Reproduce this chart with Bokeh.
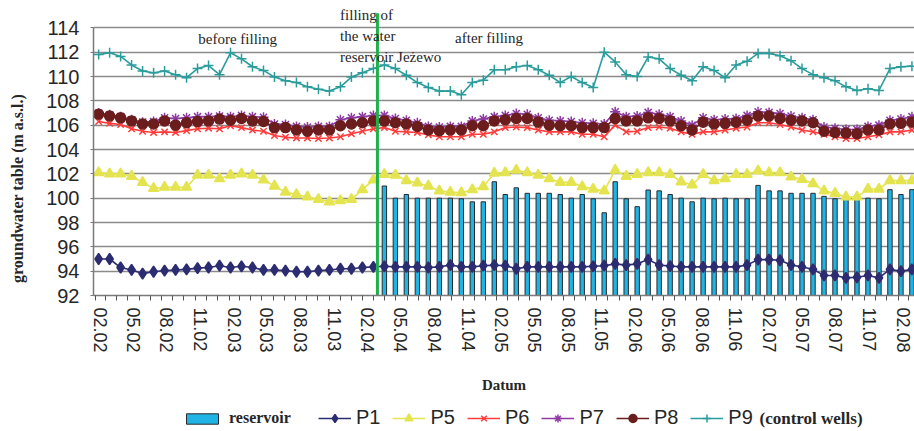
import math
import pandas as pd
from bokeh.plotting import figure
from bokeh.layouts import row, column
from bokeh.models import (ColumnDataSource, Range1d, FixedTicker, DatetimeTickFormatter,
                          Legend, LegendItem, Label)
from bokeh.embed import file_html
from bokeh.resources import INLINE

# ---------------- data ----------------
first_measurement = "2002-02-10"      # measurements roughly every 30 days
n_points = 75
filling_date = "2004-03-12"           # filling of the water reservoir Jeżewo
reservoir_start = 26                  # first measurement with reservoir level

tick_labels = ["02.02", "05.02", "08.02", "11.02", "02.03", "05.03", "08.03", "11.03",
               "02.04", "05.04", "08.04", "11.04", "02.05", "05.05", "08.05", "11.05",
               "02.06", "05.06", "08.06", "11.06", "02.07", "05.07", "08.07", "11.07", "02.08"]

P1 = [95.0, 95.0, 94.3, 94.1, 93.8, 93.95, 94.05, 94.1, 94.15, 94.25, 94.3, 94.45, 94.3,
      94.4, 94.3, 94.1, 94.1, 94.05, 93.95, 93.95, 94.05, 94.1, 94.2, 94.2, 94.3, 94.35,
      94.4, 94.35, 94.35, 94.35, 94.3, 94.35, 94.5, 94.35, 94.35, 94.45, 94.5, 94.45, 94.2,
      94.35, 94.35, 94.35, 94.35, 94.35, 94.35, 94.4, 94.45, 94.6,
      94.5, 94.6, 94.95, 94.5, 94.42, 94.35, 94.35, 94.35, 94.35, 94.35, 94.35, 94.5, 94.95,
      94.95, 94.9, 94.5, 94.35, 94.15, 93.65, 93.65, 93.45, 93.5, 93.65, 93.45, 94.15, 94.0, 94.15]

P5 = [102.1, 102.0, 102.0, 101.8, 101.3, 100.8, 100.9, 100.9, 100.9, 101.9, 101.9, 101.6, 101.9,
      102.0, 101.9, 101.5, 101.0, 100.5, 100.3, 100.1, 99.9, 99.7, 99.8, 99.9, 100.7,
      101.5, 101.95, 101.9, 101.45, 101.25, 101.0, 100.6, 100.5, 100.45, 100.7,
      100.95, 102.05, 102.1, 102.3, 102.1, 101.9, 101.6, 101.3, 101.3, 100.95,
      100.75, 100.6, 102.3, 101.8, 101.95, 102.1, 102.1, 101.95, 101.35, 101.1,
      101.95, 101.45, 101.6, 101.95, 101.95, 102.25, 102.1, 102.1, 101.75, 101.55,
      101.2, 100.6, 100.4, 100.1, 100.1, 100.75, 100.75, 101.45, 101.45, 101.45]

P6 = [106.3, 106.15, 106.05, 105.7, 105.5, 105.4, 105.45, 105.4, 105.55, 105.7,
      105.75, 105.7, 105.95, 105.8, 105.6, 105.5, 105.15, 105.0, 104.95, 104.95,
      104.9, 104.95, 105.05, 105.3, 105.5, 105.7, 105.8, 105.5, 105.45, 105.4,
      105.2, 105.05, 105.05,
      105.05, 105.25, 105.25, 105.45, 105.8, 105.85, 105.8, 105.6, 105.45, 105.45,
      105.45, 105.25, 105.25, 105.05, 106.0, 105.45, 105.5, 105.8, 105.85, 105.75,
      105.45, 105.25, 105.45, 105.45, 105.6, 105.75, 105.85, 106.2, 106.2, 106.05,
      105.85, 105.6, 105.45, 105.25, 105.05, 104.9, 104.9, 105.05, 105.2, 105.45,
      105.45, 105.6]

P7 = [107.0, 106.85, 106.7, 106.45, 106.25, 106.3,
      106.6, 106.55, 106.6, 106.7, 106.7, 106.75, 106.7, 106.8, 106.7, 106.65,
      106.1, 106.05, 105.9, 105.85, 105.9, 105.9,
      106.45, 106.6, 106.7, 106.8, 106.8, 106.55,
      106.4, 106.2, 105.9, 105.85, 105.9, 105.9,
      106.35, 106.5, 106.7, 106.8, 106.95, 106.9, 106.6, 106.4, 106.35, 106.3, 106.2, 106.15, 106.1,
      107.1, 106.7, 106.75, 107.05, 106.9, 106.7, 106.35, 106.0,
      106.6, 106.45, 106.5, 106.55, 106.8, 107.1, 107.05, 106.95, 106.75, 106.6, 106.45,
      105.85, 105.75, 105.65, 105.65, 105.9, 106.0, 106.4, 106.5, 106.7]

P8 = [106.9, 106.75, 106.6, 106.35, 106.1, 106.1, 106.35, 106.0, 106.2, 106.3,
      106.35, 106.5, 106.4, 106.55, 106.35, 106.3, 105.8, 105.8, 105.6, 105.5,
      105.6, 105.6, 105.95, 106.1, 106.2,
      106.35, 106.35, 106.2, 106.1, 105.9, 105.6, 105.55, 105.6, 105.6,
      105.95, 105.95, 106.35, 106.45, 106.55, 106.55, 106.25, 106.0, 105.95, 105.95,
      105.8, 105.8, 105.8,
      106.55, 106.35, 106.35, 106.6, 106.55, 106.35, 105.95, 105.6,
      106.25, 106.1, 106.15, 106.25, 106.4, 106.75, 106.75, 106.55, 106.4, 106.35, 106.2,
      105.5, 105.4, 105.35, 105.3, 105.6, 105.6, 106.1, 106.15, 106.25]

P9 = [111.8, 111.95, 111.65, 110.95, 110.45, 110.3, 110.45, 110.15, 109.9, 110.65,
      110.9, 110.15, 111.95, 111.45, 110.8, 110.5, 109.95, 109.65, 109.5, 109.15,
      108.95, 108.8, 109.15, 109.95, 110.3, 110.65, 110.95, 110.65, 110.1, 109.5,
      109.1, 108.8, 108.8, 108.5, 109.5, 109.7, 110.55, 110.55, 110.8, 110.9,
      110.55, 110.1, 109.5, 110.0, 109.5, 109.1, 112.0, 111.2, 110.15, 110.0,
      111.6, 111.45, 110.65, 110.1, 109.65, 110.8, 110.5, 109.9, 110.95, 111.25,
      111.9, 111.9, 111.7, 111.3, 110.65, 110.15, 109.9, 109.65, 109.15, 108.85,
      109.0, 108.85, 110.65, 110.8, 110.85]

reservoir = [101.0, 100.0, 100.3, 100.0, 100.0, 100.0, 100.0, 99.95, 99.7, 99.7,
             101.35, 100.3, 100.85, 100.4, 100.4, 100.4, 100.3, 100.0, 100.3, 99.95,
             98.8, 101.35, 99.95, 99.3, 100.67, 100.6, 100.3, 100.0, 99.7, 100.0,
             99.95, 100.0, 99.95, 99.95, 101.05, 100.6, 100.6, 100.4, 100.4, 100.4,
             100.15, 99.95, 99.9, 99.9, 100.0, 99.95, 100.7, 100.3, 100.7]

# ---------------- helpers ----------------
def ms(d):
    return pd.Timestamp(d).value / 1e6

DAY = 86400000.0
dates = pd.date_range(first_measurement, periods=n_points, freq="30D")
tick_pos = [ms(pd.Timestamp(year=2000 + int(t[3:]), month=int(t[:2]), day=15)) for t in tick_labels]
minor_pos = [ms(d) for d in pd.date_range("2002-02-01", "2008-04-01", freq="MS")]

src = ColumnDataSource(dict(date=dates, P1=P1, P5=P5, P6=P6, P7=P7, P8=P8, P9=P9))
bar_src = ColumnDataSource(dict(date=dates[reservoir_start:], level=reservoir))

SANS = "Liberation Sans"
SERIF = "Liberation Serif"
TXT = "#262626"
BAR_FILL = "#20b4e6"
BAR_LINE = "#2a2a2a"

series = [
    ("P1", "#2c2c72", "diamond", 11, True),
    ("P5", "#e4e450", "triangle", 10, True),
    ("P6", "#ff3c3c", "x", 9, False),
    ("P7", "#8e3aa0", "asterisk", 10, False),
    ("P8", "#6b1d1d", "circle", 10, True),
    ("P9", "#2b9c9c", "cross", 10, False),
]

# ---------------- main plot ----------------
p = figure(width=884, height=398, x_axis_type="datetime", output_backend="svg",
           toolbar_location=None,
           x_range=Range1d(ms("2002-01-27"), ms("2008-03-17")),
           y_range=Range1d(92, 116),
           min_border_left=63, min_border_right=0, min_border_top=3, min_border_bottom=103)
p.outline_line_color = None
p.background_fill_color = "white"
p.border_fill_color = "white"
p.xgrid.visible = False

yt = FixedTicker(ticks=list(range(92, 115, 2)))
p.yaxis.ticker = yt
p.ygrid.ticker = yt
p.ygrid.grid_line_color = "#8a8a8a"
p.ygrid.grid_line_width = 1.6
p.yaxis.bounds = (92, 114)
p.yaxis.axis_line_color = "#7a7a7a"
p.yaxis.axis_line_width = 1.5
p.yaxis.major_tick_line_color = "#7a7a7a"
p.yaxis.major_tick_out = 3
p.yaxis.major_tick_in = 0
p.yaxis.minor_tick_line_color = None
p.yaxis.major_label_standoff = 11
p.yaxis.major_label_text_font = SANS
p.yaxis.major_label_text_font_size = "20px"
p.yaxis.major_label_text_color = TXT

p.xaxis.ticker = FixedTicker(ticks=tick_pos, minor_ticks=minor_pos)
fmt = "%m.%y"
p.xaxis.formatter = DatetimeTickFormatter(microseconds=fmt, milliseconds=fmt, seconds=fmt,
                                          minsec=fmt, minutes=fmt, hourmin=fmt, hours=fmt,
                                          days=fmt, months=fmt, years=fmt)
p.xaxis.major_label_orientation = "vertical"
p.xaxis.major_tick_line_color = None
p.xaxis.major_tick_out = 0
p.xaxis.major_tick_in = 0
p.xaxis.minor_tick_line_color = "#555555"
p.xaxis.minor_tick_line_width = 1
p.xaxis.minor_tick_out = 5
p.xaxis.minor_tick_in = 0
p.xaxis.axis_line_color = "#7a7a7a"
p.xaxis.axis_line_width = 1.5
p.xaxis.major_label_standoff = 7
p.xaxis.major_label_text_font = SANS
p.xaxis.major_label_text_font_size = "18px"
p.xaxis.major_label_text_color = TXT
p.xaxis.axis_label = "Datum"
p.xaxis.axis_label_standoff = 21
p.xaxis.axis_label_text_font = SERIF
p.xaxis.axis_label_text_font_style = "bold"
p.xaxis.axis_label_text_font_size = "15px"
p.xaxis.axis_label_text_color = TXT

p.vbar(x="date", top="level", bottom=92, width=12 * DAY, source=bar_src,
       fill_color=BAR_FILL, line_color=BAR_LINE, line_width=1)

for name, col, mk, sz, filled in series:
    p.line("date", name, source=src, line_color=col, line_width=1.6)
    p.scatter("date", name, source=src, marker=mk, size=sz, line_color=col,
              fill_color=col if filled else None, line_width=1.5)

# filling of the reservoir: vertical green line
fill_src = ColumnDataSource(dict(x=[ms(filling_date)], y0=[92], y1=[115.2]))
p.segment(x0="x", y0="y0", x1="x", y1="y1", source=fill_src,
          line_color="#1fb04a", line_width=3)

def lab(fig, x, y, text, size="15px", bold=False, angle=0.0, align="left", font=SERIF):
    fig.add_layout(Label(x=x, y=y, text=text, angle=angle, text_align=align,
                         text_baseline="middle", text_font=font,
                         text_font_style="bold" if bold else "normal",
                         text_font_size=size, text_color=TXT))

lab(p, ms("2002-11-09"), 113.07, "before filling")
lab(p, ms("2003-12-01"), 115.04, "filling of")
lab(p, ms("2003-12-01"), 113.3, "the water")
lab(p, ms("2003-12-01"), 111.6, "reservoir Jeżewo")
lab(p, ms("2004-10-10"), 113.15, "after filling")

# ---------------- left strip: y axis title (shares the y range) ----------------
fl = figure(width=30, height=398, output_backend="svg", toolbar_location=None,
            x_range=Range1d(0, 30), y_range=p.y_range,
            x_axis_location=None, y_axis_location=None,
            min_border=0, min_border_left=0, min_border_right=0,
            min_border_top=3, min_border_bottom=103)
fl.outline_line_color = None
fl.grid.visible = False
lab(fl, 17, 100.8, "groundwater table (m a.s.l.)", size="16px", bold=True,
    angle=math.pi / 2, align="center")

# ---------------- bottom strip: legend ----------------
fb = figure(width=914, height=33, output_backend="svg", toolbar_location=None,
            x_range=Range1d(0, 914), y_range=Range1d(0, 33),
            x_axis_location=None, y_axis_location=None,
            min_border=0, min_border_left=0, min_border_right=0,
            min_border_top=0, min_border_bottom=0)
fb.outline_line_color = None
fb.grid.visible = False

# legend swatch renderers (their single point lies outside the visible strip)
rb = fb.vbar(x=[-100], top=[-10], bottom=-20, width=1, fill_color=BAR_FILL,
             line_color=BAR_LINE, line_width=1)
items = []
for name, col, mk, sz, filled in series:
    ln = fb.line(x=[-100, -90], y=[-10, -10], line_color=col, line_width=1.6)
    sc = fb.scatter(x=[-100], y=[-10], marker=mk, size=sz, line_color=col,
                    fill_color=col if filled else None, line_width=1.5)
    items.append(LegendItem(label=name, renderers=[ln, sc]))

leg_res = Legend(items=[LegendItem(label="reservoir", renderers=[rb])],
                 location=(182, 3), orientation="horizontal",
                 glyph_width=40, glyph_height=13, label_standoff=7, padding=0, margin=0,
                 border_line_color=None, background_fill_alpha=0,
                 label_text_font=SERIF, label_text_font_style="bold",
                 label_text_font_size="16px", label_text_color=TXT, label_height=20)
leg_p = Legend(items=items, location=(318, 2), orientation="horizontal",
               glyph_width=33, glyph_height=20, label_standoff=5, spacing=12,
               padding=0, margin=0, border_line_color=None, background_fill_alpha=0,
               label_text_font=SANS, label_text_font_size="20px", label_text_color=TXT,
               label_height=20)
fb.add_layout(leg_res)
fb.add_layout(leg_p)
lab(fb, 759, 13, "(control wells)", size="17px", bold=True)

layout = column(row(fl, p, spacing=0), fb, spacing=0)
open("out.html", "w").write(file_html(layout, INLINE))
